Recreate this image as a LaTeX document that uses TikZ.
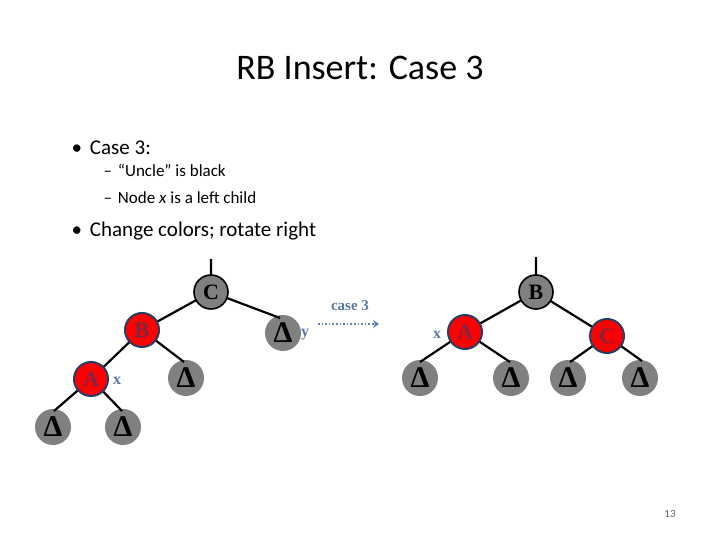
\documentclass[tikz,border=0pt]{standalone}
\usepackage{fontspec}
\usetikzlibrary{arrows.meta}
\setmainfont{Carlito}
\newfontfamily\tms{Liberation Serif}
\newcommand{\dlt}{\tms\bfseries Δ}
\definecolor{ngray}{RGB}{128,128,128}
\definecolor{nred}{RGB}{255,0,0}
\definecolor{nborder}{RGB}{40,60,100}
\definecolor{ntext}{RGB}{120,40,70}
\definecolor{labc}{RGB}{90,120,160}
\definecolor{arrc}{RGB}{90,130,180}
\definecolor{pgc}{RGB}{100,100,100}
\begin{document}
\begin{tikzpicture}[x=1pt,y=-1pt,
  blk/.style={circle,draw=black,line width=1.6pt,fill=ngray,minimum size=34pt,inner sep=0pt,font=\tms\bfseries\fontsize{22}{22}\selectfont},
  red/.style={circle,draw=nborder,line width=2pt,fill=nred,minimum size=34pt,inner sep=0pt,text=ntext,font=\tms\bfseries\fontsize{22}{22}\selectfont},
  leaf/.style={circle,fill=ngray,minimum size=36pt,inner sep=0pt,font=\tms\bfseries\fontsize{30}{30}\selectfont},
  edge/.style={line width=2.2pt,black},
  lab/.style={text=labc,font=\tms\bfseries\fontsize{16}{16}\selectfont}]
\useasboundingbox (0,0) rectangle (720,540);
\node at (360,68) {\fontsize{36}{36}\selectfont RB Insert: Case 3};
\node[anchor=west] at (68,148) {\fontsize{21}{21}\selectfont •\hspace{8pt}Case 3:};
\node[anchor=west] at (100,170) {\fontsize{17}{17}\selectfont –\hspace{6pt}“Uncle” is black};
\node[anchor=west] at (100,198) {\fontsize{17}{17}\selectfont –\hspace{6pt}Node \textit{x} is a left child};
\node[anchor=west] at (68,231) {\fontsize{21}{21}\selectfont •\hspace{8pt}Change colors; rotate right};
\node[text=pgc] at (670,514) {\fontsize{11}{11}\selectfont 13};
% left tree
\coordinate (ltop) at (211,259);
\node[leaf] (ly) at (283,333) {\dlt};
\node[leaf] (lb2) at (186,378) {\dlt};
\node[leaf] (la1) at (53,427) {\dlt};
\node[leaf] (la2) at (123,427) {\dlt};
\coordinate (lyt) at (280,318);
\coordinate (lb2t) at (184,362);
\coordinate (la1t) at (54,411);
\coordinate (la2t) at (122,411);
\coordinate (lC) at (211,292);
\coordinate (lB) at (142,330);
\coordinate (lA) at (91,379);
\draw[edge] (ltop)--(lC) (lC)--(lyt) (lC)--(lB) (lB)--(lb2t) (lB)--(lA) (lA)--(la1t) (lA)--(la2t);
\node[blk] (C) at (lC) {C};
\node[red] (B) at (lB) {B};
\node[red] (A) at (lA) {A};
\node[lab] (y) at (305,335) {y};
\node[lab] (x) at (117,381) {x};
% arrow
\coordinate (as) at (318,324);
\coordinate (ae) at (379,324);
\draw[line width=1.6pt,dotted,arrc,-{Stealth[length=6pt,width=8pt]}] (as)--(ae);
\node[lab,font=\tms\bfseries\fontsize{15}{15}\selectfont] (c3) at (350,306) {case 3};
% right tree
\coordinate (rtop) at (536,257);
\coordinate (rB) at (536,292);
\coordinate (rA) at (465,332);
\coordinate (rC) at (607,336);
\node[leaf] (r1) at (420,378) {\dlt};
\node[leaf] (r2) at (511,378) {\dlt};
\node[leaf] (r3) at (568,378) {\dlt};
\node[leaf] (r4) at (640,378) {\dlt};
\coordinate (r1t) at (420,362);
\coordinate (r2t) at (510,362);
\coordinate (r3t) at (570,362);
\coordinate (r4t) at (642,361);
\draw[edge] (rtop)--(rB) (rB)--(rA) (rB)--(rC) (rA)--(r1t) (rA)--(r2t) (rC)--(r3t) (rC)--(r4t);
\node[blk] (B2) at (rB) {B};
\node[red] (A2) at (rA) {A};
\node[red] (C2) at (rC) {C};
\node[lab] (x2) at (437,335) {x};
\end{tikzpicture}
\end{document}
